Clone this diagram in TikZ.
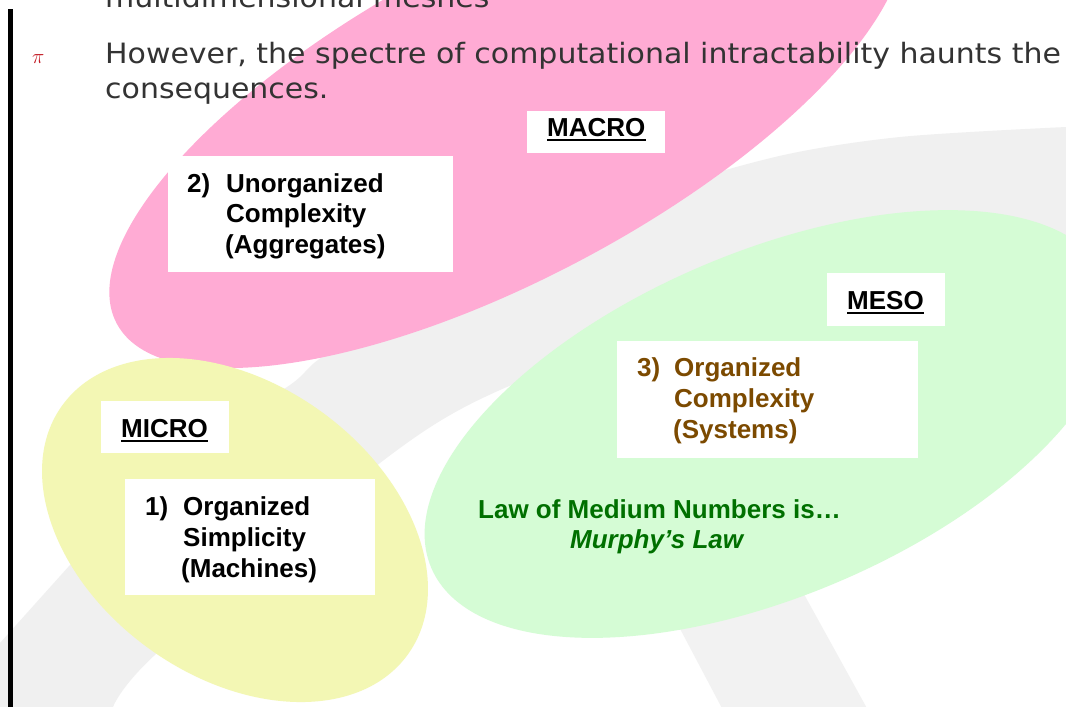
\documentclass[tikz,border=0pt]{standalone}
\usepackage{fontspec}
\setmainfont{Liberation Sans}
\newfontfamily\slidefont[FakeStretch=1.07]{DejaVu Sans}
\usetikzlibrary{shapes.geometric}
\definecolor{pinkE}{RGB}{255,171,212}
\definecolor{yellowE}{RGB}{243,247,180}
\definecolor{greenE}{RGB}{213,252,213}
\definecolor{greyA}{RGB}{240,240,240}
\definecolor{greyB}{RGB}{242,242,242}
\definecolor{brownT}{RGB}{124,74,0}
\definecolor{greenT}{RGB}{0,112,0}
\definecolor{bodyT}{RGB}{51,51,51}
\definecolor{bulletR}{RGB}{195,25,35}
\begin{document}
\begin{tikzpicture}[x=1pt,y=-1pt,
  blob/.style={ellipse, draw=none, inner sep=0pt},
  wbox/.style={rectangle, fill=white, draw=none, inner sep=0pt, anchor=north west},
  lbl/.style={inner sep=0pt, anchor=base west, font=\fontsize{26}{31}\selectfont\bfseries},
  body/.style={inner sep=0pt, anchor=base west, text=bodyT, font=\slidefont\fontsize{28}{35}\selectfont},
  uline/.style={line width=2.7pt}
]
\useasboundingbox (0,0) rectangle (1066,707);
\clip (0,0) rectangle (1066,707);
\fill[white] (0,0) rectangle (1066,707);

% grey background swoosh
\fill[greyA] (0,712) -- (0,643) -- (70,565) -- plot[smooth,tension=0.5] coordinates {(70,565) (190,450) (290,385) (330,352) (480,270) (633,200) (775,157) (900,137) (1066,127)}
  -- (1070,127) -- (1070,265) -- plot[smooth,tension=0.5] coordinates {(1066,265) (900,272) (700,320) (500,390) (380,463) (157,653) (113,707)} -- (110,712) -- cycle;
\fill[greyB] (612,500) -- (724,712) -- (869,712) -- (752,500) -- cycle;

% ellipses
\node[blob, fill=pinkE, minimum width=884pt, minimum height=324pt, rotate=28] (macro) at (507,116) {};
\node[blob, fill=yellowE, minimum width=426pt, minimum height=293pt, rotate=-35.7] (micro) at (235,530) {};
\node[blob, fill=greenE, minimum width=736pt, minimum height=344pt, rotate=23] (meso) at (770,424) {};

% slide text
\node[body] (l0) at (105,7) {multidimensional meshes};
\node[inner sep=0pt, anchor=base west, text=bulletR, font=\fontsize{20}{20}\selectfont] (pi) at (32,63) {$\pi$};
\node[body] (l1) at (105,63) {However, the spectre of computational intractability haunts the};
\node[body] (l2) at (105,98) {consequences.};

% left bar
\fill[black] (7.5,9) rectangle (12.5,712);

% white boxes
\node[wbox, minimum width=138pt, minimum height=42pt] (macrobox) at (527,111) {};
\node[wbox, minimum width=285pt, minimum height=116pt] (box2) at (168,156) {};
\node[wbox, minimum width=118pt, minimum height=53pt] (mesobox) at (827,273) {};
\node[wbox, minimum width=301pt, minimum height=117pt] (box3) at (617,341) {};
\node[wbox, minimum width=128pt, minimum height=52pt] (microbox) at (101,401) {};
\node[wbox, minimum width=250pt, minimum height=116pt] (box1) at (125,479) {};

% headings
\node[lbl] (macrot) at (547,136) {MACRO};
\draw[uline] ([yshift=-4pt]macrot.base west) -- ([yshift=-4pt]macrot.base east);
\node[lbl] (mesot) at (847,309) {MESO};
\draw[uline] ([yshift=-4pt]mesot.base west) -- ([yshift=-4pt]mesot.base east);
\node[lbl] (microt) at (121,437) {MICRO};
\draw[uline] ([yshift=-4pt]microt.base west) -- ([yshift=-4pt]microt.base east);

% box 2
\node[lbl] (n2) at (187,192) {2)};
\node[lbl] (b2a) at (226,192) {Unorganized};
\node[lbl] (b2b) at (226,222.5) {Complexity};
\node[lbl] (b2c) at (225,253) {(Aggregates)};
% box 1
\node[lbl] (n1) at (145,515) {1)};
\node[lbl] (b1a) at (183,515) {Organized};
\node[lbl] (b1b) at (183,546) {Simplicity};
\node[lbl] (b1c) at (181,577) {(Machines)};
% box 3
\node[lbl, text=brownT] (n3) at (637,376) {3)};
\node[lbl, text=brownT] (b3a) at (674,376) {Organized};
\node[lbl, text=brownT] (b3b) at (674,407) {Complexity};
\node[lbl, text=brownT] (b3c) at (673,438) {(Systems)};

% law text
\node[lbl, text=greenT] (law) at (478,518) {Law of Medium Numbers is…};
\node[lbl, text=greenT, font=\fontsize{26}{31}\selectfont\bfseries\itshape] (murphy) at (570,548) {Murphy’s Law};
\end{tikzpicture}
\end{document}
